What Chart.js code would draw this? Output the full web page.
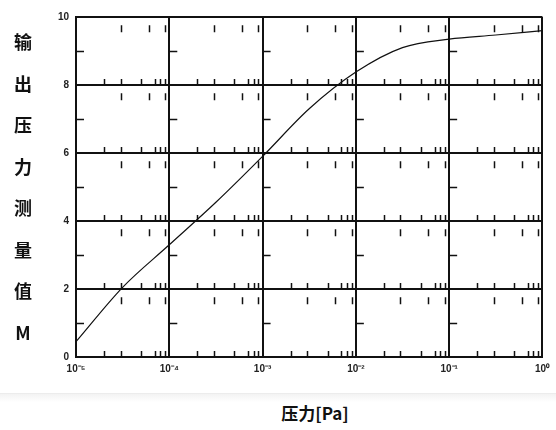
<!DOCTYPE html>
<html>
<head>
<meta charset="utf-8">
<script src="https://cdn.jsdelivr.net/npm/chart.js@4"></script>
<style>
  body { margin: 0; background: #fff; font-family: Arial, "Liberation Sans", sans-serif; }
  #wrap { position: relative; width: 556px; height: 430px; }
  #box { position: absolute; left: 0; top: 0; width: 556px; height: 393px; }
  #ytitle { position: absolute; left: 6px; top: 28px; width: 34px; }
  #ytitle div { height: 41.5px; font: bold 18px "Noto Sans CJK SC", sans-serif; color: #111; text-align: center; }
  #xtitle { position: absolute; left: 0; top: 393px; width: 556px; height: 37px;
            border-top: 1px solid #ececec; background: linear-gradient(#f3f3f3, #fff 8px);
            text-align: center; font: bold 17px "Noto Sans CJK SC", sans-serif; line-height: 37px; color: #111; }
  #xtitle span { margin-left: 74px; }
</style>
</head>
<body>
<div id="wrap">
  <div id="box"><canvas id="lineChart" width="556" height="393"></canvas></div>
  <div id="ytitle"><div>输</div><div>出</div><div>压</div><div>力</div><div>测</div><div>量</div><div>值</div><div>M</div></div>
  <div id="xtitle"><span>压力[Pa]</span></div>
</div>
<script>
// pressure (Pa) and measured output
const pressure = [1e-5, 3.16e-5, 1e-4, 3.16e-4, 1e-3, 3.16e-3, 1e-2, 3.16e-2, 1e-1, 3.16e-1, 1];
const output = [0.45, 2.05, 3.3, 4.55, 5.9, 7.3, 8.38, 9.1, 9.35, 9.47, 9.6];

const xTicks = [1e-5, 1e-4, 1e-3, 1e-2, 1e-1, 1];
const xTickLabels = ['10⁻⁵', '10⁻⁴', '10⁻³', '10⁻²', '10⁻¹', '10⁰'];
const yTicks = [0, 2, 4, 6, 8, 10];

// the minor tick clutter seen inside the plot
const minorMult = [2, 3, 5, 7, 8, 9];
const midMult = [3, 6, 9];
const oddRows = [1, 3, 5, 7, 9];

const minorTicks = {
    id: 'minorTicks',
    afterDatasetsDraw(chart) {
        const { ctx, scales: { x, y } } = chart;
        ctx.save();
        ctx.strokeStyle = '#111';
        ctx.lineWidth = 1.5;
        ctx.beginPath();
        xTicks.slice(0, -1).forEach(d => {
            yTicks.slice(0, -1).forEach(v => {
                const py = y.getPixelForValue(v);
                minorMult.forEach(m => {
                    const px = Math.round(x.getPixelForValue(d * m)) + 0.5;
                    ctx.moveTo(px, py); ctx.lineTo(px, py - 6);
                });
            });
            oddRows.forEach(v => {
                midMult.forEach(m => {
                    const px = Math.round(x.getPixelForValue(d * m)) + 0.5;
                    const py = y.getPixelForValue(v + 0.55);
                    ctx.moveTo(px, py); ctx.lineTo(px, py - 7);
                });
                const hx = x.getPixelForValue(d);
                const hy = Math.round(y.getPixelForValue(v)) + 0.5;
                ctx.moveTo(hx, hy); ctx.lineTo(hx + 8, hy);
            });
        });
        ctx.stroke();
        ctx.restore();
    }
};

const ctxLine = document.getElementById('lineChart').getContext('2d');
new Chart(ctxLine, {
    type: 'line',
    data: {
        labels: pressure,
        datasets: [{
            data: pressure.map((p, i) => ({ x: p, y: output[i] })),
            borderColor: '#111',
            borderWidth: 1.2,
            pointRadius: 0,
            fill: false,
            cubicInterpolationMode: 'monotone'
        }]
    },
    options: {
        responsive: false,
        animation: false,
        layout: { padding: { left: 0, right: 7, top: 17, bottom: 0 } },
        plugins: { legend: { display: false }, tooltip: { enabled: false } },
        scales: {
            x: {
                type: 'logarithmic',
                min: 1e-5,
                max: 1,
                afterBuildTicks: s => { s.ticks = xTicks.map(v => ({ value: v })); },
                afterFit: s => { s.height = 36; },
                ticks: {
                    autoSkip: false,
                    maxRotation: 0,
                    color: '#222',
                    font: { size: 10, weight: 'bold', family: 'Arial' },
                    padding: 6,
                    callback: (v) => xTickLabels[xTicks.indexOf(v)] ?? ''
                },
                grid: { color: '#111', lineWidth: 2, drawTicks: false },
                border: { color: '#111', width: 2 }
            },
            y: {
                min: 0,
                max: 10,
                afterBuildTicks: s => { s.ticks = yTicks.map(v => ({ value: v })); },
                afterFit: s => { s.width = 76; },
                ticks: {
                    color: '#222',
                    font: { size: 10, weight: 'bold', family: 'Arial' },
                    padding: 7
                },
                grid: { color: '#111', lineWidth: 2, drawTicks: false },
                border: { color: '#111', width: 2 }
            }
        }
    },
    plugins: [minorTicks]
});
</script>
</body>
</html>
